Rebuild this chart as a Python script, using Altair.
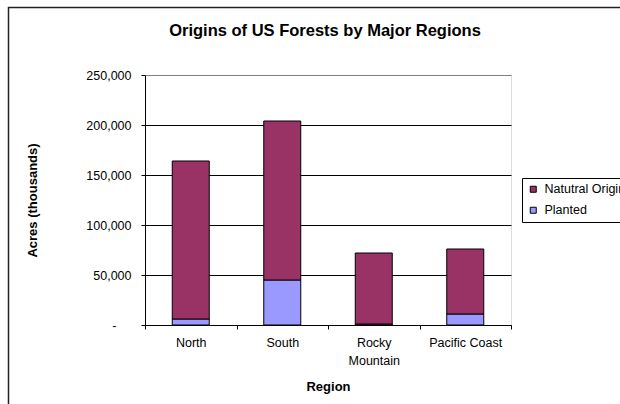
import altair as alt
import pandas as pd

regions = ["North", "South", "Rocky Mountain", "Pacific Coast"]
natural = [158000, 159000, 71000, 65000]
planted = [6000, 45000, 1000, 11000]
series = ["Natutral Origin", "Planted"]
colors = ["#993366", "#9999FF"]
y_ticks = [0, 50000, 100000, 150000, 200000, 250000]

rows = []
for r, n, p in zip(regions, natural, planted):
    rows.append({"Region": r, "Series": series[1], "Acres": p, "ord": 0})
    rows.append({"Region": r, "Series": series[0], "Acres": n, "ord": 1})
df = pd.DataFrame(rows)

FONT = "Liberation Sans"

frame = alt.Chart(pd.DataFrame({"a": [0]})).mark_rect(
    fill="transparent", stroke="#222222", strokeWidth=1.5
).encode(
    x=alt.value(8.5 - 145), x2=alt.value(700), y=alt.value(7.5 - 75), y2=alt.value(400)
)

bars = alt.Chart(df).mark_bar(size=37, stroke="black", strokeWidth=1).encode(
    x=alt.X(
        "Region:N",
        sort=regions,
        scale=alt.Scale(paddingInner=0, paddingOuter=0),
        axis=alt.Axis(
            title="Region",
            labelAngle=0,
            labelExpr="datum.label == 'Rocky Mountain' ? ['Rocky', 'Mountain'] : datum.label",
            tickBand="extent",
            tickSize=4,
            tickColor="black",
            domainColor="black",
            labelPadding=7,
            labelFontSize=12.5,
            labelColor="black",
            labelLineHeight=18,
            labelFont=FONT,
            grid=False,
            titleX=183,
            titleY=61,
            titleBaseline="middle",
            titleFontSize=13,
            titleFontWeight="bold",
            titleFont=FONT,
            titleColor="black",
        ),
    ),
    y=alt.Y(
        "Acres:Q",
        stack="zero",
        scale=alt.Scale(domain=[0, 250000], nice=False),
        axis=alt.Axis(
            title="Acres (thousands)",
            values=y_ticks,
            labelExpr="datum.value == 0 ? '-' : format(datum.value, ',')",
            tickSize=4,
            tickColor="black",
            domainColor="black",
            grid=True,
            gridColor={"condition": {"test": "datum.value === 250000", "value": "#808080"}, "value": "black"},
            gridOpacity=1,
            labelPadding={"condition": {"test": "datum.value === 0", "value": 25}, "value": 10},
            labelFontSize=12.5,
            labelColor="black",
            labelFont=FONT,
            titleX=-113,
            titleY=125,
            titleAngle=270,
            titleAlign="center",
            titleBaseline="middle",
            titleFontSize=13,
            titleFontWeight="bold",
            titleFont=FONT,
            titleColor="black",
        ),
    ),
    color=alt.Color(
        "Series:N",
        scale=alt.Scale(domain=series, range=colors),
        legend=alt.Legend(
            title=None,
            orient="none",
            legendX=377,
            legendY=103,
            strokeColor="black",
            fillColor="white",
            padding=5,
            symbolType="square",
            symbolSize=36,
            symbolStrokeColor="black",
            symbolStrokeWidth=1,
            labelFontSize=12.5,
            labelFont=FONT,
            labelColor="black",
            rowPadding=8,
            labelOffset=5,
        ),
    ),
    order=alt.Order("ord:Q", sort="ascending"),
)

chart = alt.layer(frame, bars).properties(
    width=366,
    height=250,
    autosize="none",
    padding={"left": 145, "top": 75, "right": 109, "bottom": 79},
    title=alt.TitleParams(
        text="Origins of US Forests by Major Regions",
        fontSize=16.5,
        fontWeight="bold",
        font=FONT,
        color="black",
        anchor="middle",
        dx=-3,
        dy=37,
    ),
).configure_view(fill="#C0C0C0", stroke="#808080").configure(background="white")

chart.save("out.html", embed_options={"renderer": "svg", "actions": False})
